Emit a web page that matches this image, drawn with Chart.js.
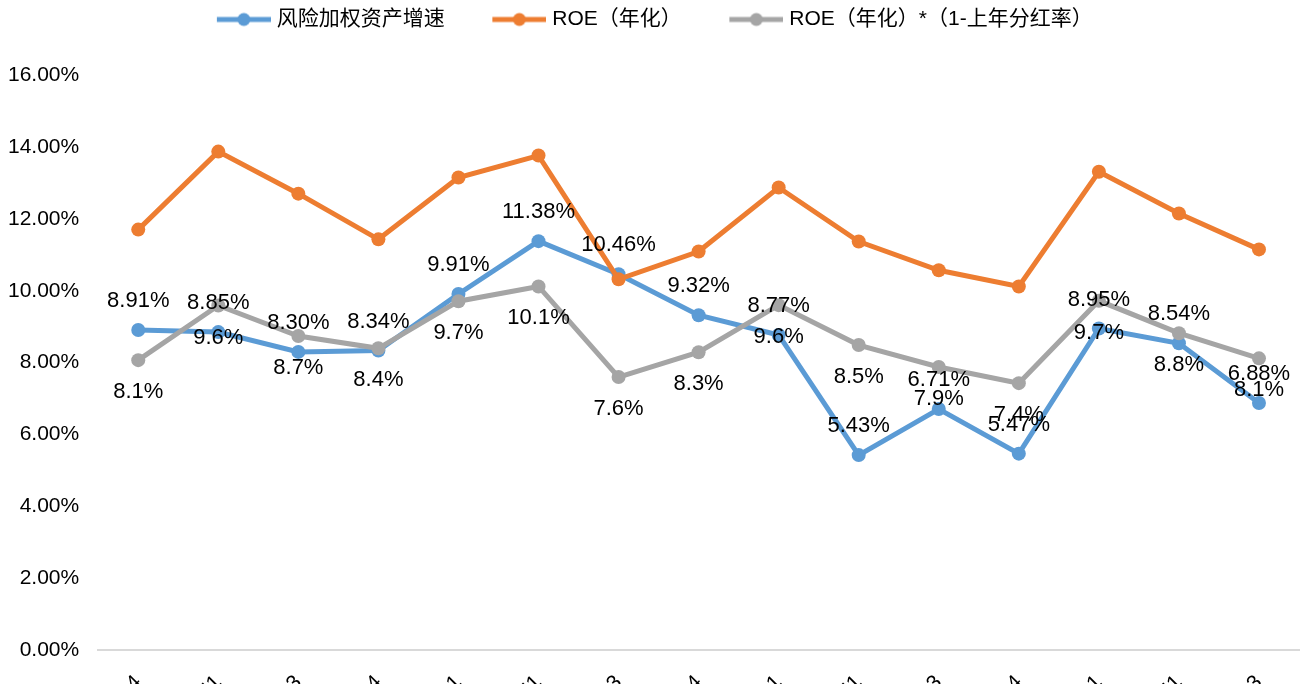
<!DOCTYPE html>
<html>
<head>
<meta charset="utf-8">
<script src="https://cdn.jsdelivr.net/npm/chart.js@4.4.0/dist/chart.umd.min.js"></script>
<style>
html,body{margin:0;padding:0;background:#fff;overflow:hidden;width:1306px;height:684px;}
#wrap{position:relative;width:1306px;height:761px;}
</style>
</head>
<body>
<div id="wrap"><canvas id="c"></canvas></div>
<script>
// ---- data ----
const categories = ['2017Q4','2018H1','2018Q3','2018Q4','2019Q1','2019H1','2019Q3','2019Q4','2020Q1','2020H1','2020Q3','2020Q4','2021Q1','2021H1','2021Q3'];
const seriesNames = ['风险加权资产增速','ROE（年化）','ROE（年化）*（1-上年分红率）'];
const rwaGrowth = [8.91, 8.85, 8.30, 8.34, 9.91, 11.38, 10.46, 9.32, 8.77, 5.43, 6.71, 5.47, 8.95, 8.54, 6.88];
const roeAnnualized = [11.70, 13.87, 12.70, 11.43, 13.15, 13.76, 10.32, 11.09, 12.87, 11.37, 10.57, 10.12, 13.31, 12.15, 11.15];
const roeRetained = [8.07, 9.59, 8.74, 8.40, 9.71, 10.12, 7.60, 8.29, 9.60, 8.49, 7.88, 7.43, 9.72, 8.82, 8.12];
const yMin = 0, yMax = 16, yStep = 2;

// ---- styles ----
const colors = ['#5B9BD5', '#ED7D31', '#A5A5A5'];
const FONT = '"Liberation Sans", "Noto Sans CJK SC", Arial, sans-serif';
Chart.defaults.font.family = FONT;
Chart.defaults.font.size = 21;
Chart.defaults.color = '#000';

const BOXW = 88;
function markerImg(color){
  const W = BOXW + 9, H = 16;
  const c = document.createElement('canvas');
  c.width = W; c.height = H;
  const g = c.getContext('2d');
  g.strokeStyle = color; g.lineWidth = 5; g.lineCap = 'butt';
  g.beginPath(); g.moveTo(W - 54, H/2); g.lineTo(W, H/2); g.stroke();
  g.fillStyle = color;
  g.beginPath(); g.arc(W - 27, H/2, 6.5, 0, Math.PI*2); g.fill();
  return c;
}
const legendMarkers = colors.map(markerImg);

const legendSpacer = {
  id: 'legendSpacer',
  beforeLayout(chart){
    const lg = chart.legend;
    if (lg && !lg._patched){
      const orig = lg.fit;
      lg.fit = function(){
        orig.call(this);
        this.height += 35;
        if (this.lineWidths && this.lineWidths.length) this.lineWidths[0] += 17;
      };
      lg._patched = true;
    }
  }
};

const valueLabels = {
  id: 'valueLabels',
  afterDatasetsDraw(chart){
    const ctx = chart.ctx;
    ctx.save();
    ctx.font = '22px ' + FONT;
    ctx.fillStyle = '#000';
    ctx.textAlign = 'center';
    ctx.textBaseline = 'middle';
    const specs = [{ds:0, dec:2, dy:-29}, {ds:2, dec:1, dy:32}];
    specs.forEach(s => {
      const meta = chart.getDatasetMeta(s.ds);
      const vals = chart.data.datasets[s.ds].data;
      meta.data.forEach((pt, i) => {
        ctx.fillText(vals[i].toFixed(s.dec) + '%', pt.x, pt.y + s.dy);
      });
    });
    ctx.restore();
  }
};

function lineDs(label, data, color, order){
  return {
    label, data, order,
    borderColor: color, backgroundColor: color,
    pointBackgroundColor: color, pointBorderColor: color,
    borderWidth: 5, pointRadius: 7, pointBorderWidth: 0,
    pointHoverRadius: 7, tension: 0, fill: false
  };
}

new Chart(document.getElementById('c'), {
  type: 'line',
  data: {
    labels: categories,
    datasets: [
      lineDs(seriesNames[0], rwaGrowth, colors[0], 2),
      lineDs(seriesNames[1], roeAnnualized, colors[1], 1),
      lineDs(seriesNames[2], roeRetained, colors[2], 0)
    ]
  },
  options: {
    responsive: true,
    maintainAspectRatio: false,
    animation: false,
    events: [],
    layout: { padding: { left: -11, right: 7, top: 0, bottom: 0 } },
    plugins: {
      tooltip: { enabled: false },
      legend: {
        position: 'top',
        align: 'center',
        labels: {
          usePointStyle: true,
          pointStyleWidth: BOXW,
          padding: 9,
          color: '#000',
          font: { size: 21, family: FONT },
          sort: (a, b) => a.datasetIndex - b.datasetIndex,
          generateLabels(chart){
            const items = Chart.defaults.plugins.legend.labels.generateLabels(chart);
            items.forEach(it => { it.pointStyle = legendMarkers[it.datasetIndex]; });
            return items;
          }
        }
      }
    },
    scales: {
      x: {
        offset: true,
        grid: { display: false, drawTicks: false },
        border: { display: true, color: '#D9D9D9', width: 2 },
        ticks: { minRotation: 45, maxRotation: 45, padding: 20, autoSkip: false, color: '#000', font: { size: 21 } },
        afterFit: s => { s.paddingLeft = 0; }
      },
      y: {
        min: yMin, max: yMax,
        grid: { display: false, drawTicks: false },
        border: { display: false },
        ticks: { stepSize: yStep, padding: 19, color: '#000', font: { size: 21 },
          callback: v => v.toFixed(2) + '%' }
      }
    }
  },
  plugins: [legendSpacer, valueLabels]
});
</script>
</body>
</html>
